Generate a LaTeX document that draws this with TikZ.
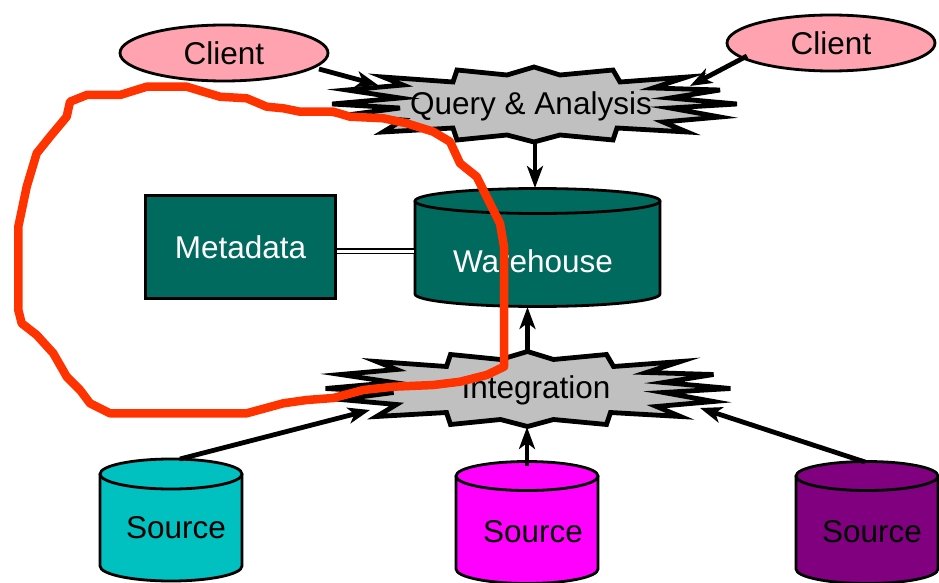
\documentclass[tikz,border=0pt]{standalone}
\usepackage{fontspec}
\setmainfont{Liberation Sans}
\usetikzlibrary{arrows.meta,shapes.geometric}
\definecolor{clientpink}{RGB}{255,163,177}
\definecolor{burstgray}{RGB}{192,192,192}
\definecolor{whteal}{RGB}{0,106,94}
\definecolor{loopred}{RGB}{255,51,0}
\definecolor{srccyan}{RGB}{0,192,192}
\definecolor{srcmagenta}{RGB}{255,0,255}
\definecolor{srcpurple}{RGB}{128,0,128}
\newcommand\drawdrum[6]{%
  \fill[#6] (#1-#3,#2) rectangle (#1+#3,#2-#5);
  \fill[#6] (#1,#2-#5) ellipse[x radius=#3, y radius=#4];
  \draw[drumline] (#1-#3,#2) -- (#1-#3,#2-#5) arc[start angle=180,end angle=360,x radius=#3,y radius=#4] -- (#1+#3,#2);
  \draw[drumline,fill=#6] (#1,#2) ellipse[x radius=#3,y radius=#4];
}
\tikzset{
  lbl/.style={font=\fontsize{31.5}{36}\selectfont, inner sep=0pt},
  client/.style={ellipse, draw=black, line width=2.8pt, fill=clientpink, minimum width=208pt, minimum height=56pt, lbl},
  arr/.style={line width=4.8pt, -{Stealth[length=22pt,width=16pt,inset=6pt]}},
  burstline/.style={draw=black, fill=burstgray, line width=4.8pt, line join=miter},
  drumline/.style={draw=black, line width=2.8pt},
  loopline/.style={draw=loopred, line width=8.5pt, line join=round, line cap=round},
  mdbox/.style={rectangle, draw=black, line width=2.8pt, fill=whteal, text=white, minimum width=190pt, minimum height=103pt, lbl},
  burst/.pic={\path[burstline] (-77,34) -- (-27,29) -- (0,37) -- (26,29) -- (79,34) -- (86,22) -- (153,27) -- (119,16) -- (186,14) -- (136,6) -- (203,0) -- (136,-4) -- (186,-13) -- (129,-18) -- (153,-28) -- (83,-24) -- (79,-36) -- (26,-31) -- (0,-38) -- (-27,-31) -- (-77,-36) -- (-81,-24) -- (-151,-28) -- (-131,-16) -- (-187,-11) -- (-134,-4) -- (-202,0) -- (-134,6) -- (-187,14) -- (-131,19) -- (-151,27) -- (-81,22) -- cycle;}
}
\begin{document}
\begin{tikzpicture}[x=1pt,y=1pt]
\useasboundingbox (0,0) rectangle (939,-583);

% bursts
\pic at (534,-104) {burst};
\pic at (527.5,-388.5) {burst};
\node[lbl] (qa) at (531,-106) {Query \& Analysis};
\node[lbl] (integ) at (536,-390) {Integration};

% clients
\node[client] (c1) at (224,-53) {Client};
\node[client] (c2) at (831,-43) {Client};

% warehouse
\drawdrum{537.5}{-201}{122.5}{12.5}{93}{whteal}
\node[lbl, text=white] (wh) at (533,-261) {Warehouse};
\coordinate (whtop) at (535,-188);
\coordinate (whbot) at (527.5,-307);
\coordinate (whL) at (414,-251);

% metadata
\node[mdbox] (md) at (240.5,-247) {Metadata};
\draw[line width=1.6pt, double=white, double distance=3pt] ([yshift=-4pt]md.east) -- (whL);

% sources
\drawdrum{171}{-474}{71}{15}{92}{srccyan}
\drawdrum{527}{-476}{71}{14.5}{93}{srcmagenta}
\drawdrum{867}{-476}{71}{14.5}{93}{srcpurple}
\node[lbl] (s1) at (176,-528) {Source};
\node[lbl] (s2) at (533,-532) {Source};
\node[lbl] (s3) at (872,-532) {Source};
\coordinate (s1top) at (180,-459);
\coordinate (s2top) at (527,-466);
\coordinate (s3top) at (865,-462);

% connector end points on the bursts
\coordinate (qaL) at (378,-85);
\coordinate (qaR) at (690,-86);
\coordinate (qaB) at (535,-142);
\coordinate (intT) at (527.5,-352);
\coordinate (intL) at (370,-410);
\coordinate (intB) at (527,-427);
\coordinate (intR) at (700,-408);
\coordinate (c1out) at (319,-69);
\coordinate (c2out) at (747,-56);

% arrows
\draw[arr] (c1out) -- (qaL);
\draw[arr] (c2out) -- (qaR);
\draw[arr] (qaB) -- (whtop);
\draw[arr] (intT) -- (whbot);
\draw[arr] (s1top) -- (intL);
\draw[arr] (s2top) -- (intB);
\draw[arr] (s3top) -- (intR);

% red loop
\draw[loopline] (70,-101.7) -- (86.7,-95) -- (120,-95) -- (146.7,-86.7) -- (186.7,-86.7) -- (220,-96.7) -- (246.7,-98.3) -- (266.7,-106.7) -- (283.3,-108.3) -- (300,-111.7) -- (333.3,-111.7) -- (350,-116.7) -- (383.3,-118.3) -- (406.7,-123.3) -- (433.3,-131.7) -- (450,-141.7) -- (460,-163.3) -- (476.7,-176.7) -- (490,-203.3) -- (500,-223.3) -- (504,-246.7) -- (504,-366.7) -- (486.7,-375) -- (460,-381.7) -- (433.3,-385) -- (393.3,-386.7) -- (363.3,-390) -- (333.3,-398) -- (306.7,-400) -- (283.3,-403.3) -- (246.7,-413.3) -- (110,-413.3) -- (90,-403.3) -- (80,-390) -- (66.7,-376.7) -- (53.3,-353.3) -- (36.7,-335) -- (21.7,-323.3) -- (18.3,-310) -- (18.3,-226.7) -- (26.7,-186.7) -- (36.7,-153.3) -- (50,-136.7) -- (66.7,-116.7) -- cycle;
\end{tikzpicture}
\end{document}
